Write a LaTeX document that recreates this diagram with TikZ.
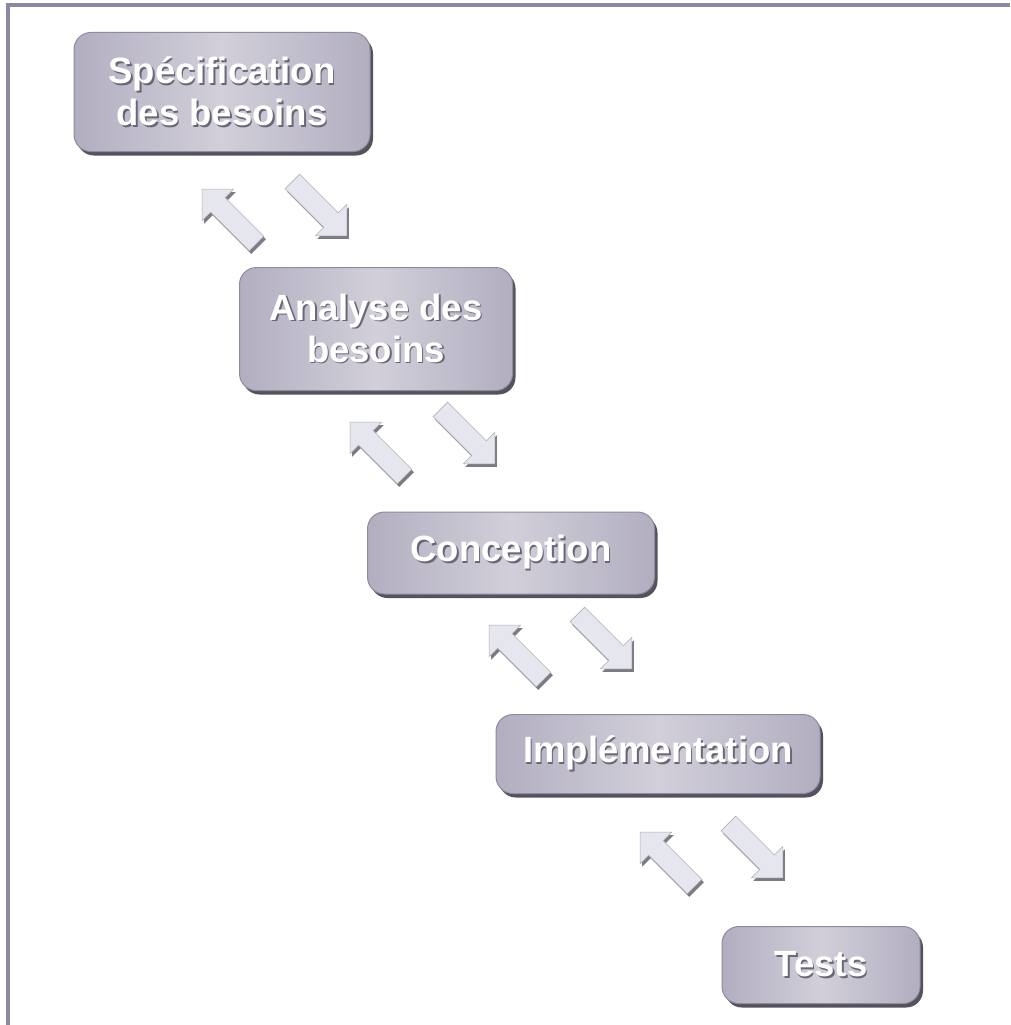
\documentclass[tikz,border=0pt]{standalone}
\usepackage{fontspec}
\setmainfont{Liberation Sans}
\usetikzlibrary{shapes.arrows,shadows}

\definecolor{frameblue}{HTML}{8A8AA2}
\definecolor{boxedge}{HTML}{8E8C9C}
\definecolor{boxmid}{HTML}{D2CFDA}
\definecolor{boxside}{HTML}{B2AEC0}
\definecolor{boxshadow}{HTML}{55525E}
\definecolor{txtshadow}{HTML}{6A6676}
\definecolor{arrowfill}{HTML}{E6E6EE}
\definecolor{arrowedge}{HTML}{B0B0BC}
\definecolor{arrowshadow}{HTML}{6E6C76}

% white label with a soft dark offset copy behind it
\newcommand\shline[1]{\leavevmode\rlap{\kern1.6pt\raisebox{-1.6pt}{\textcolor{txtshadow}{#1}}}#1}

\tikzset{
  stage/.style={rectangle, rounded corners=17pt, draw=boxedge, line width=1pt,
    left color=boxside, right color=boxside, middle color=boxmid,
    drop shadow={shadow xshift=3pt, shadow yshift=-4pt, fill=boxshadow, opacity=1},
    text=white, font=\fontsize{36.5}{42}\selectfont\bfseries, align=center,
    inner sep=0pt},
  flow/.style={single arrow, draw=arrowedge, line width=0.6pt, fill=arrowfill,
    minimum height=77pt, inner xsep=0pt, inner ysep=10pt,
    single arrow head extend=12pt,
    drop shadow={shadow xshift=2pt, shadow yshift=-3pt, fill=arrowshadow, opacity=0.9}},
  back/.style={flow, rotate=135},
  fwd/.style={flow, rotate=-45}
}

\begin{document}
\begin{tikzpicture}[x=1pt, y=-1pt]
  \useasboundingbox (0,0) rectangle (1010,1025);
  \fill[white] (0,0) rectangle (1010,1025);

  % page frame
  \draw[frameblue, line width=3.5pt] (8,1025) -- (8,5) -- (1010,5);

  % stages
  \node[stage, minimum width=296pt, minimum height=119pt] (spec) at (222,92)
    {\shline{Spécification}\\\shline{des besoins}};
  \node[stage, minimum width=273pt, minimum height=123pt] (ana) at (376,329)
    {\shline{Analyse des}\\\shline{besoins}};
  \node[stage, minimum width=287pt, minimum height=82pt] (conc) at (511,553)
    {\shline{Conception}};
  \node[stage, minimum width=324pt, minimum height=79pt] (impl) at (658,754)
    {\shline{Implémentation}};
  \node[stage, minimum width=198pt, minimum height=77pt] (tests) at (821,965)
    {\shline{Tests}};

  % feedback and forward arrows between stages
  \node[back] (b1) at (233,220) {};
  \node[fwd]  (f1) at (316,205) {};
  \node[back] (b2) at (381,453) {};
  \node[fwd]  (f2) at (464,433) {};
  \node[back] (b3) at (520,656) {};
  \node[fwd]  (f3) at (601,638) {};
  \node[back] (b4) at (671,863) {};
  \node[fwd]  (f4) at (752,847) {};
\end{tikzpicture}
\end{document}
